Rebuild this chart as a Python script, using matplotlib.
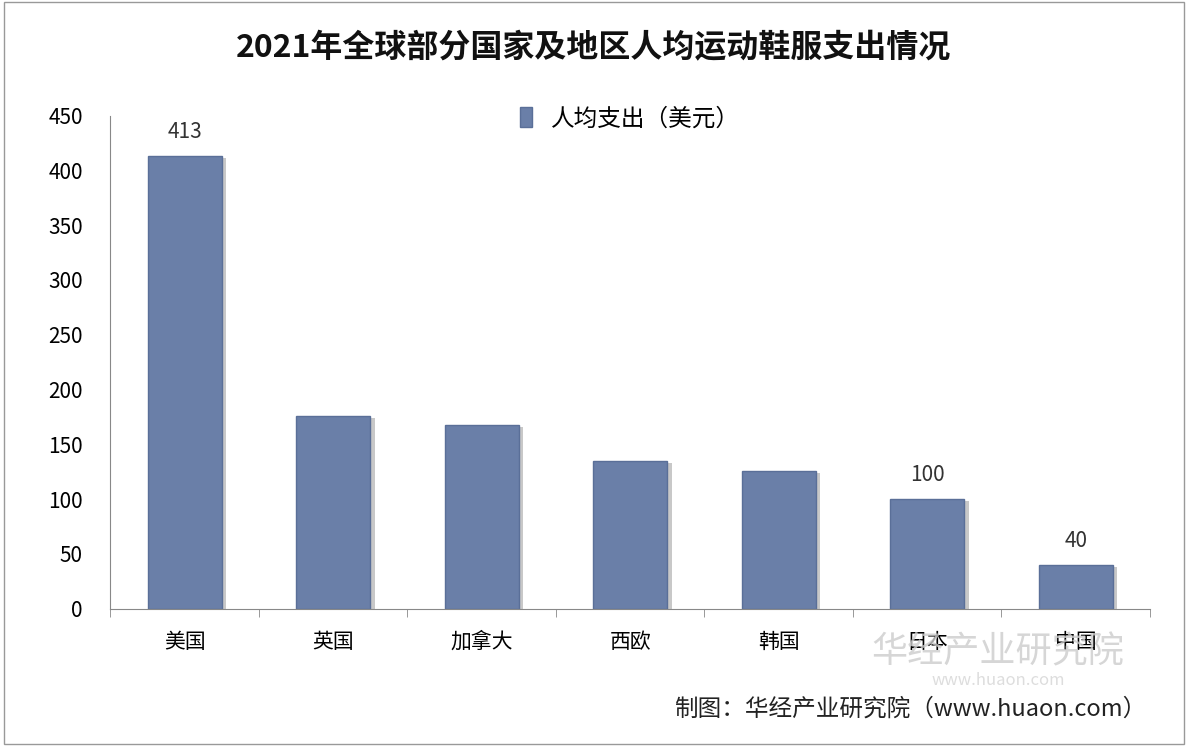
import matplotlib.pyplot as plt
from matplotlib.patches import Rectangle

plt.rcParams['font.family'] = ['Noto Sans CJK SC', 'DejaVu Sans']

categories = ['美国', '英国', '加拿大', '西欧', '韩国', '日本', '中国']
values = [413, 176, 168, 135, 126, 100, 40]
labeled = {0: '413', 5: '100', 6: '40'}

fig = plt.figure(figsize=(11.88, 7.46), dpi=100)
fig.patches.append(Rectangle((0.003, 0.003), 0.994, 0.994, transform=fig.transFigure,
                             fill=False, edgecolor='#999999', linewidth=1))
ax = fig.add_axes([0.093, 0.184, 0.875, 0.661])

x = range(len(categories))
# shadow
ax.bar([i + 0.03 for i in x], [v - 2 for v in values], width=0.5, color='#c8c8c8', zorder=1)
bars = ax.bar(x, values, width=0.5, color='#6a7fa8', edgecolor='#5a6f98', zorder=2,
              label='人均支出（美元）')
for i, t in labeled.items():
    ax.text(i, values[i] + 12, t, ha='center', va='bottom', fontsize=15, color='#333333')

ax.set_xlim(-0.5, len(categories) - 0.5)
ax.set_ylim(0, 450)
ax.set_yticks(range(0, 451, 50))
ax.set_xticks(list(x))
ax.set_xticklabels(categories, fontsize=15)
ax.tick_params(axis='y', labelsize=15, length=0, pad=20)
ax.set_xticks([i + 0.5 for i in range(-1, len(categories))], minor=True)
ax.tick_params(axis='x', which='minor', length=6, color='#888888')
ax.tick_params(axis='x', which='major', length=0, pad=16)
for s in ['top', 'right']:
    ax.spines[s].set_visible(False)
ax.spines['left'].set_color('#888888')
ax.spines['bottom'].set_color('#888888')

ax.legend(loc='upper center', bbox_to_anchor=(0.5, 1.06), frameon=False, fontsize=17,
          handlelength=0.5, handleheight=0.9)

fig.text(0.5, 0.935, '2021年全球部分国家及地区人均运动鞋服支出情况', ha='center', va='center',
         fontsize=23, fontweight='bold', color='#111111')
fig.text(0.84, 0.125, '华经产业研究院', ha='center', va='center', fontsize=26,
         color='#cccccc', alpha=0.8)
fig.text(0.84, 0.088, 'www.huaon.com', ha='center', va='center', fontsize=12,
         color='#dddddd')
fig.text(0.965, 0.05, '制图：华经产业研究院（www.huaon.com）', ha='right', va='center',
         fontsize=17, color='#222222')

fig.savefig('out.png', dpi=100)
